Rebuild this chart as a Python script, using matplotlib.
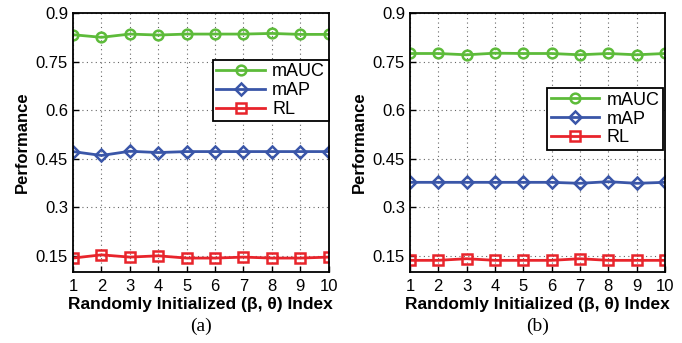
import numpy as np
import matplotlib.pyplot as plt

plt.rcParams['font.family'] = ['Liberation Sans', 'DejaVu Sans']

idx = np.arange(1, 11)
mauc_a = [0.833, 0.825, 0.835, 0.832, 0.835, 0.835, 0.835, 0.837, 0.834, 0.834]
map_a = [0.472, 0.460, 0.473, 0.469, 0.472, 0.472, 0.472, 0.472, 0.472, 0.472]
rl_a = [0.143, 0.153, 0.146, 0.150, 0.143, 0.143, 0.146, 0.143, 0.143, 0.146]
mauc_b = [0.775, 0.775, 0.771, 0.776, 0.775, 0.775, 0.771, 0.775, 0.771, 0.775]
map_b = [0.377, 0.377, 0.377, 0.377, 0.377, 0.377, 0.374, 0.379, 0.374, 0.377]
rl_b = [0.136, 0.136, 0.141, 0.136, 0.136, 0.136, 0.141, 0.136, 0.136, 0.136]
yticks = [0.15, 0.3, 0.45, 0.6, 0.75, 0.9]
ytick_labels = ['0.15', '0.3', '0.45', '0.6', '0.75', '0.9']
captions = ['(a)', '(b)']

green, blue, red = '#5dbb3a', '#3a56a8', '#e8242b'

fig = plt.figure(figsize=(6.82, 3.43), dpi=100)
positions = [[0.107, 0.207, 0.375, 0.755], [0.601, 0.207, 0.374, 0.755]]
legend_anchor = [(1.0, 0.82), (0.993, 0.71)]
data = [(mauc_a, map_a, rl_a), (mauc_b, map_b, rl_b)]

for k in range(2):
    ax = fig.add_axes(positions[k])
    mauc, mapv, rl = data[k]
    ax.plot(idx, mauc, '-o', color=green, lw=2, ms=7, mfc='none', mew=1.8, label='mAUC')
    ax.plot(idx, mapv, '-D', color=blue, lw=2, ms=6, mfc='none', mew=1.8, label='mAP')
    ax.plot(idx, rl, '-s', color=red, lw=2, ms=7, mfc='none', mew=1.8, label='RL')
    ax.set_xlim(1, 10)
    ax.set_ylim(0.1, 0.9)
    ax.set_xticks(idx)
    ax.set_yticks(yticks)
    ax.set_yticklabels(ytick_labels)
    ax.tick_params(direction='in', labelsize=12, length=4, width=1, colors='black')
    ax.tick_params(axis='x', pad=5)
    ax.grid(True, linestyle=(0, (1, 3)), color='#666666', lw=0.8)
    for s in ax.spines.values():
        s.set_linewidth(1.3)
    ax.set_xlabel('Randomly Initialized (β, θ) Index', fontsize=12.5, fontweight='bold', labelpad=2)
    ax.set_ylabel('Performance', fontsize=12, fontweight='bold', labelpad=4)
    leg = ax.legend(loc='upper right', bbox_to_anchor=legend_anchor[k], fontsize=13,
                    handlelength=2.7, fancybox=False, framealpha=1, edgecolor='black',
                    borderpad=0.2, labelspacing=0.1, handletextpad=0.4, borderaxespad=0)
    leg.get_frame().set_linewidth(1.3)
    ax.text(0.5, -0.21, captions[k], transform=ax.transAxes, ha='center', va='center',
            fontsize=14, family='Liberation Serif')

fig.savefig('out.png', dpi=100)
